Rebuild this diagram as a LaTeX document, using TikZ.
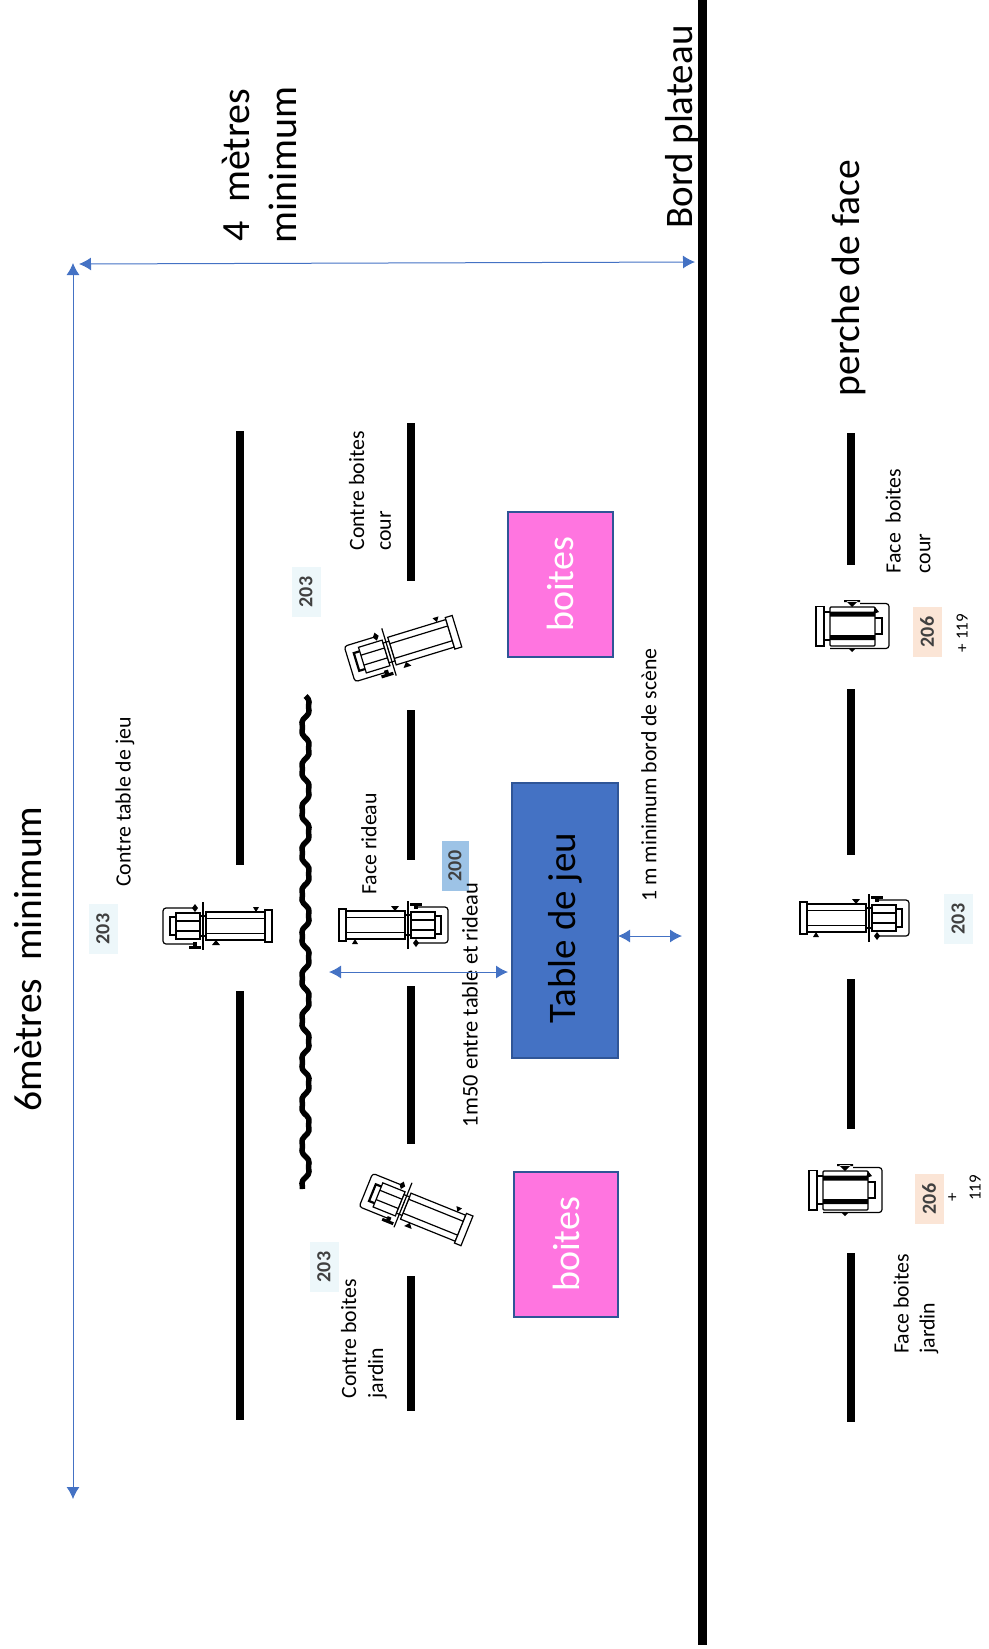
\documentclass[tikz,border=0pt]{standalone}
\usepackage{fontspec}
\usetikzlibrary{arrows.meta}
\setmainfont{Carlito}
\definecolor{arrowblue}{HTML}{4472C4}
\definecolor{boxedge}{HTML}{2F5597}
\definecolor{pinkbox}{HTML}{FF75E0}
\definecolor{badgeblue}{HTML}{EDF7FA}
\definecolor{badgeorange}{HTML}{FBE5D6}
\definecolor{badgedeep}{HTML}{9DC3E6}
\newcommand{\fs}[1]{\fontsize{#1pt}{\dimexpr#1pt*11/10\relax}\selectfont}
\tikzset{
 x=1pt,y=-1pt,
 pipe/.style={line width=8pt,black},
 curtain/.style={line width=5.5pt,black,line join=round},
 dim/.style={draw=arrowblue,line width=1pt,{Latex[length=12pt,width=13pt]}-{Latex[length=12pt,width=13pt]}},
 lab/.style={rotate=90,align=center,inner sep=0pt,text=black},
 labl/.style={rotate=90,align=left,inner sep=0pt,text=black},
 box/.style={draw=boxedge,line width=1.4pt,inner sep=0pt,rotate=90,text=white},
 badge/.style={rotate=90,inner sep=0pt,minimum height=29pt,minimum width=50pt,font=\bfseries\fs{20},text=black!75},
 mech/.style={line width=1.2pt,black,fill=white},
 spot/.pic={
  \draw[mech,rounded corners=3pt] (-8,-18) -- (-40,-18) -- (-40,18) -- (-8,18);
  \draw[line width=2.2pt] (-27,-9) -- (-33,-9) -- (-33,9) -- (-27,9);
  \draw[mech] (-27,-13) rectangle (-3,13);
  \draw[line width=1.2pt] (-27,-5) -- (-3,-5) (-27,5) -- (-3,5);
  \draw[mech] (3,-14) rectangle (62,14);
  \draw[line width=1.2pt] (3,-7.5) -- (62,-7.5) (3,7.5) -- (62,7.5);
  \draw[mech] (62,-16) rectangle (69,16);
  \draw[mech] (-3,-10) rectangle (3,10);
  \draw[line width=1.2pt] (0,-24) -- (0,24);
  \draw[line width=.8pt] (0,-5) -- (0,5);
  \fill (53,-14) -- (50,-19) -- (56,-19) -- cycle (13,14) -- (9,19) -- (17,19) -- cycle;
  \fill (-8,-22) -- (-11,-18) -- (-8,-14) -- (-5,-18) -- cycle;
  \fill (-14,19.5) rectangle (-2,22.5);
  \fill (-10,16) rectangle (-6,20);
 },
 fres/.pic={
  \draw[mech,rounded corners=3pt] (-22,22.5) -- (37,22.5) -- (37,-22.5) -- (8,-22.5);
  \draw[mech] (-36,-19.5) rectangle (-28,20);
  \draw[mech,rounded corners=1pt] (-22,-19) rectangle (23,20);
  \fill (-22,-14.5) rectangle (23,-9.5) (-22,9) rectangle (23,14);
  \draw[line width=1.2pt] (23,-8) -- (30,-8) -- (30,8) -- (23,8);
  \draw[line width=1.2pt] (-28,-14) -- (-22,-14) (-28,14) -- (-22,14);
  \fill (0,-19) -- (-6,-25) -- (6,-25) -- cycle (-8,-26) rectangle (8,-24);
  \fill (0,26) -- (-4,22) -- (4,22) -- cycle;
  \fill (23,-19) -- (27,-14) -- (21,-12) -- cycle;
 }
}
\begin{document}
\begin{tikzpicture}
\useasboundingbox (0,0) rectangle (988,1649);
% stage edge
\coordinate (edgeT) at (702.6,0); \coordinate (edgeB) at (702.6,1645);
\draw[line width=8.8pt,black] (edgeT) -- (edgeB);
% pipes
\foreach \x/\a/\b in {240/431/865,240/991/1420,411/423/581,411/710/860,411/986/1144,411/1276/1411,851/433/565,851/689/855,851/979/1129,851/1253/1422}
 \draw[pipe] (\x,\a) -- (\x,\b);
% curtain
\draw[curtain] plot[smooth,samples=170,domain=696:1189,variable=\t] ({305.5+4*sin(8.6*(\t-696))+1*sin(25.8*(\t-696))},\t);
% boxes
\node[box,fill=pinkbox,minimum width=145pt,minimum height=105pt,font=\fs{38}] (boxA) at (560.5,584.5) {boites};
\node[box,fill=pinkbox,minimum width=145pt,minimum height=104pt,font=\fs{38}] (boxB) at (566,1244.5) {boites};
\node[box,fill=arrowblue,minimum width=275pt,minimum height=106pt,font=\fs{39},text=black] (tab) at (565,920.5) {Table de jeu\hspace*{15pt}};
% badges
\node[badge,fill=badgeblue] (b1) at (103,929) {203};
\node[badge,fill=badgeblue] (b2) at (306,592) {203};
\node[badge,fill=badgeblue] (b3) at (324,1267) {203};
\node[badge,fill=badgedeep,minimum height=27pt] (b4) at (455,866) {200};
\node[badge,fill=badgeblue] (b5) at (958,919) {203};
\node[badge,fill=badgeorange] (b6) at (927,632) {206};
\node[badge,fill=badgeorange] (b7) at (929,1199) {206};
% fixtures
\pic at (203,926) {spot};
\pic[rotate=180] at (408,925) {spot};
\pic[rotate=17,scale=1.03] at (389,652) {spot};
\pic[rotate=-22] at (403,1205) {spot};
\pic[rotate=180] at (869,918) {spot};
\pic at (852,626) {fres};
\pic at (845,1190) {fres};
% labels
\node[lab,font=\fs{39.5}] (t1) at (28,959) {6mètres\ \ minimum};
\node[lab,font=\fs{40}] (t2) at (259,165) {4\ \ mètres\\[3pt]minimum};
\node[lab,font=\fs{39}] (t3) at (682,127) {Bord plateau};
\node[lab,font=\fs{39.6}] (t4) at (849,278) {perche de face};
\node[lab,font=\fs{21.8}] (t5) at (125,802) {Contre table de jeu};
\node[labl,font=\fs{21.8}] (t6) at (370,491) {Contre boites\\[3pt]cour};
\node[lab,font=\fs{21.8}] (t7) at (369,844) {Face rideau};
\node[lab,font=\fs{21.8}] (t8) at (649,775) {1 m minimum bord de scène};
\node[lab,font=\fs{22.4}] (t9) at (470,1005) {1m50 entre table et rideau};
\node[labl,font=\fs{21.8}] (t10) at (364,1339) {Contre boites\\[3pt]jardin};
\node[labl,font=\fs{21.8}] (t11) at (908,521) {Face\ \ boites\\[6pt]cour};
\node[labl,font=\fs{21.8}] (t12) at (916,1304) {Face boites\\[2pt]jardin};
\node[lab,font=\fs{17}] (t13) at (962,633) {+ 119};
\node[lab,font=\fs{17}] (t14) at (953,1197) {+};
\node[lab,font=\fs{17}] (t15) at (975,1188) {119};
% dimension arrows
\coordinate (vT) at (73,263); \coordinate (vB) at (73,1499);
\coordinate (hL) at (79,264); \coordinate (hR) at (695,262);
\coordinate (rL) at (329,972); \coordinate (rR) at (508,972);
\coordinate (sR) at (682,936); \coordinate (sL) at (618,936);
\draw[dim] (vT) -- (vB);
\draw[dim] (hL) -- (hR);
\draw[dim] (rL) -- (rR);
\draw[dim] (sL) -- (sR);
\end{tikzpicture}
\end{document}
